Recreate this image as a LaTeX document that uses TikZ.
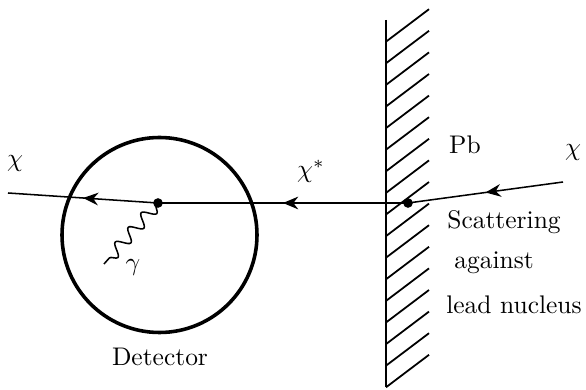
\documentclass[tikz,border=0pt]{standalone}
\usepackage{amsmath,amssymb}
\usetikzlibrary{arrows.meta,decorations.markings,decorations.pathmorphing}
\tikzset{
  dot/.style={circle,fill=black,inner sep=0pt,minimum size=3.8pt},
  fermion/.style={line width=0.6pt,postaction={decorate},
    decoration={markings,mark=at position 0.5 with {\arrow{Stealth[length=6pt,width=5pt]}}}},
  photon/.style={line width=0.6pt,decorate,decoration={snake,segment length=0.27cm,amplitude=0.085cm,pre length=1pt}}
}
\begin{document}
\begin{tikzpicture}[x=0.0138cm,y=-0.0138cm]
\useasboundingbox (0,0) rectangle (586,390);
\draw[line width=1pt] (386,20) -- (386,387);
\foreach \i in {0,...,16}
  \draw[line width=0.7pt] (386,41.7+21.6*\i) -- ++(43,-32.5);
\draw[line width=1.4pt] (159.5,235) circle (97.5);
\node[dot] (scat) at (408,203) {};
\node[dot] (det) at (158,203) {};
\coordinate (in) at (563,182);
\coordinate (out) at (8,193);
\coordinate (gend) at (104,264);
\draw[fermion] (in) -- (scat.center);
\draw[fermion] (scat.center) -- (det.center);
\draw[fermion] (det.center) -- (out);
\draw[photon] (det.center) -- (gend);
\node at (15,163) {$\chi$};
\node at (311,171) {$\chi^{*}$};
\node at (573,152) {$\chi$};
\node at (133,267) {$\gamma$};
\node at (465,145) {Pb};
\node at (504,222) {Scattering};
\node at (494,263) {against};
\node at (514,305) {lead nucleus};
\node at (160,357) {Detector};
\end{tikzpicture}
\end{document}
